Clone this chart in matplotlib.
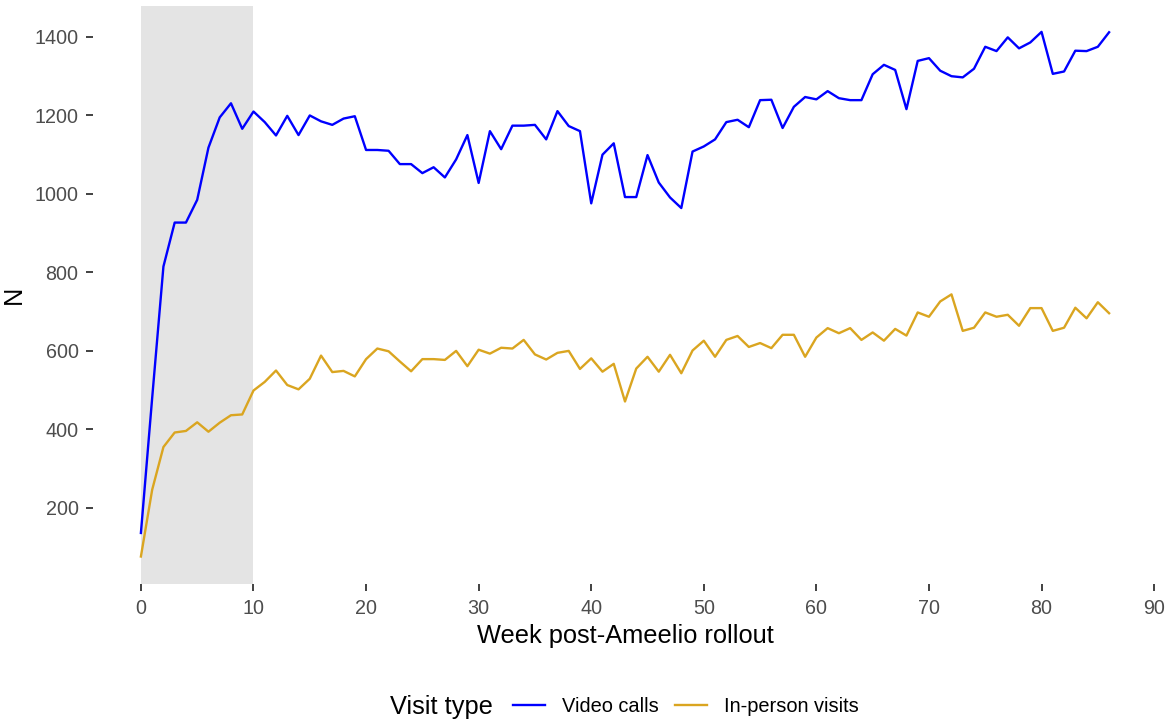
import matplotlib
matplotlib.use('Agg')
import matplotlib.pyplot as plt
import numpy as np

#font + colours (ggplot-ish look)
plt.rcParams['font.family'] = ['Liberation Sans', 'DejaVu Sans']
BLUE = '#0000FF'
GOLD = '#DAA520'
SHADE = '#E4E4E4'
TICK_TXT = '#4D4D4D'

#weekly counts
weeks = np.arange(87)
video_calls = [136, 480, 815, 927, 927, 985, 1118, 1195, 1231, 1166,
               1210, 1183, 1149, 1199, 1150, 1200, 1185, 1176, 1192, 1198,
               1112, 1112, 1110, 1076, 1076, 1053, 1068, 1042, 1088, 1150,
               1028, 1160, 1114, 1174, 1174, 1176, 1139, 1211, 1173, 1160,
               976, 1100, 1129, 992, 992, 1099, 1029, 991, 964, 1108,
               1121, 1139, 1183, 1189, 1170, 1239, 1240, 1168, 1222, 1247,
               1241, 1262, 1244, 1239, 1239, 1305, 1329, 1316, 1216, 1339,
               1346, 1314, 1300, 1297, 1319, 1375, 1364, 1399, 1371, 1386,
               1413, 1306, 1312, 1365, 1364, 1375, 1412]
in_person = [76, 246, 355, 392, 396, 418, 394, 417, 436, 438,
             499, 521, 550, 513, 502, 529, 588, 546, 549, 535,
             579, 606, 599, 573, 548, 579, 579, 577, 600, 561,
             603, 593, 608, 606, 628, 591, 578, 595, 600, 554,
             581, 547, 567, 471, 555, 585, 547, 590, 543, 601,
             626, 585, 628, 638, 610, 620, 607, 641, 641, 585,
             634, 658, 645, 658, 628, 647, 626, 656, 639, 698,
             687, 726, 744, 651, 659, 698, 687, 692, 664, 709,
             709, 651, 659, 710, 683, 724, 696]
rollout_weeks = (0, 10)
x_ticks = [0, 10, 20, 30, 40, 50, 60, 70, 80, 90]
y_ticks = [200, 400, 600, 800, 1000, 1200, 1400]

fig = plt.figure(figsize=(11.66, 7.19), dpi=100)
ax = fig.add_axes([92.5 / 1166, 0.1878, 1065 / 1166, 0.8039])

#rollout period shading
ax.axvspan(rollout_weeks[0], rollout_weeks[1], color=SHADE, lw=0, zorder=0)

l1, = ax.plot(weeks, video_calls, color=BLUE, lw=1.7, label='Video calls')
l2, = ax.plot(weeks, in_person, color=GOLD, lw=1.7, label='In-person visits')

ax.set_xlim(-4.3, 90.3)
ax.set_ylim(6, 1479)
ax.set_xticks(x_ticks)
ax.set_yticks(y_ticks)
for s in ax.spines.values():
    s.set_visible(False)
ax.tick_params(axis='both', length=5, width=1.3, color='#333333',
               labelcolor=TICK_TXT, labelsize=14.2)
ax.tick_params(axis='x', pad=6)
ax.tick_params(axis='y', pad=5)

ax.set_xlabel('Week post-Ameelio rollout', fontsize=18.3, labelpad=4)
ax.set_ylabel('N', fontsize=18.3, labelpad=6)

#legend with title on the left, like ggplot bottom legend
fig.text(0.3345, 0.017, 'Visit type', fontsize=18.3, ha='left', va='center')
fig.legend(handles=[l1, l2], loc='center left', bbox_to_anchor=(0.44, 0.018),
           ncol=2, frameon=False, fontsize=14.4, handlelength=1.6,
           handletextpad=0.85, columnspacing=0.8, borderaxespad=0, borderpad=0)

fig.savefig('out.png', dpi=100)
